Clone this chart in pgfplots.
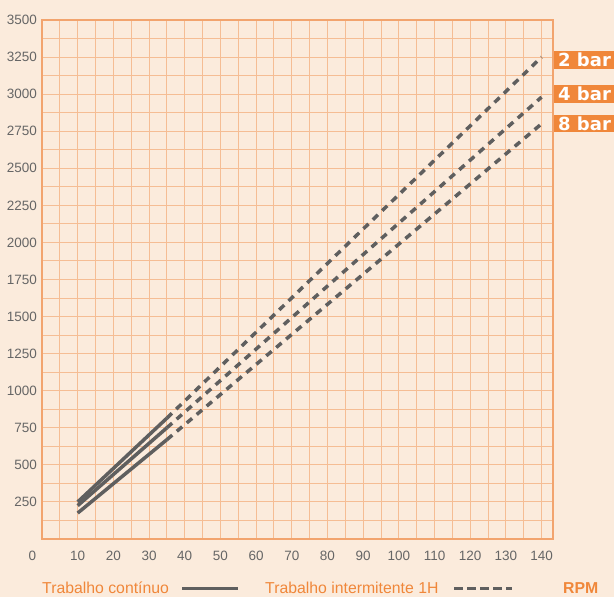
\documentclass[border=0pt]{standalone}
\usepackage{fontspec}
\setmainfont{Liberation Sans}
\newfontfamily\labelfont{DejaVu Sans}
\usepackage{pgfplots}
\pgfplotsset{compat=1.18}
\definecolor{bg}{HTML}{FBEBDC}
\definecolor{gridc}{HTML}{F5BD94}
\definecolor{axc}{HTML}{F2A46E}
\definecolor{lc}{HTML}{5F5F5F}
\definecolor{oc}{HTML}{F0873A}
\definecolor{tc}{HTML}{666666}
\begin{document}
\begin{tikzpicture}
\fill[bg] (-42bp,-58bp) rectangle (572bp,539bp);
\begin{axis}[
  at={(0,0)}, anchor=south west, scale only axis,
  width=511bp, height=519bp,
  xmin=0, xmax=143.2, ymin=0, ymax=3500,
  xtick={10,20,...,140}, ytick={250,500,...,3500},
  minor xtick={5,15,25,35,45,55,65,75,85,95,105,115,125,135},
  minor ytick={125,375,625,875,1125,1375,1625,1875,2125,2375,2625,2875,3125,3375},
  grid=both,
  major grid style={gridc, line width=1bp},
  minor grid style={gridc, line width=1bp},
  axis line style={axc, line width=1.5bp},
  major tick length=0pt, minor tick length=0pt,
  tick style={draw=none},
  /pgf/number format/assume math mode=true,
  /pgf/number format/1000 sep={},
  ticklabel style={font=\fontsize{13.5bp}{15bp}\selectfont, text=tc},
  xticklabel style={anchor=center, yshift=-17bp},
  yticklabel style={anchor=east, inner sep=0pt, xshift=-5bp},
]
% 2 bar
\addplot[lc, line width=3.5bp, line cap=butt] coordinates {(10,250) (35,815)};
\addplot[lc, line width=3.5bp, line cap=butt, dash pattern=on 7bp off 6bp] coordinates {(35,815) (140,3250)};
% 4 bar
\addplot[lc, line width=3.5bp, line cap=butt] coordinates {(10,225) (35,750)};
\addplot[lc, line width=3.5bp, line cap=butt, dash pattern=on 7bp off 6bp] coordinates {(35,750) (140,2980)};
% 8 bar
\addplot[lc, line width=3.5bp, line cap=butt] coordinates {(10,175) (35,670)};
\addplot[lc, line width=3.5bp, line cap=butt, dash pattern=on 7bp off 6bp] coordinates {(35,670) (140,2800)};
\end{axis}
\node[text=tc, font=\fontsize{13.5bp}{15bp}\selectfont] at (-9.5bp,-17bp) {0};
% bar labels
\fill[oc] (512bp,470bp) rectangle (580bp,488bp);
\fill[oc] (512bp,436bp) rectangle (580bp,454bp);
\fill[oc] (512bp,407bp) rectangle (580bp,424bp);
\begin{scope}[every node/.style={anchor=west, inner sep=0pt, text=white, font=\labelfont\bfseries\fontsize{18bp}{18bp}\selectfont}]
\node at (516bp,479bp) {2 bar};
\node at (516bp,445bp) {4 bar};
\node at (516bp,415.5bp) {8 bar};
\end{scope}
% legend
\begin{scope}[every node/.style={anchor=base west, inner sep=0pt, text=oc, font=\fontsize{15.8bp}{18bp}\selectfont}]
\node at (0bp,-54.3bp) {Trabalho contínuo};
\node at (223bp,-54.3bp) {Trabalho intermitente 1H};
\node at (521bp,-54.3bp) {\bfseries RPM};
\end{scope}
\draw[lc, line width=3.5bp] (140bp,-49.5bp) -- (196bp,-49.5bp);
\draw[lc, line width=3.5bp, dash pattern=on 9bp off 4bp] (412bp,-49.5bp) -- (470bp,-49.5bp);
\pgfresetboundingbox
\path[use as bounding box] (-42bp,-58bp) rectangle (572bp,539bp);
\end{tikzpicture}
\end{document}
